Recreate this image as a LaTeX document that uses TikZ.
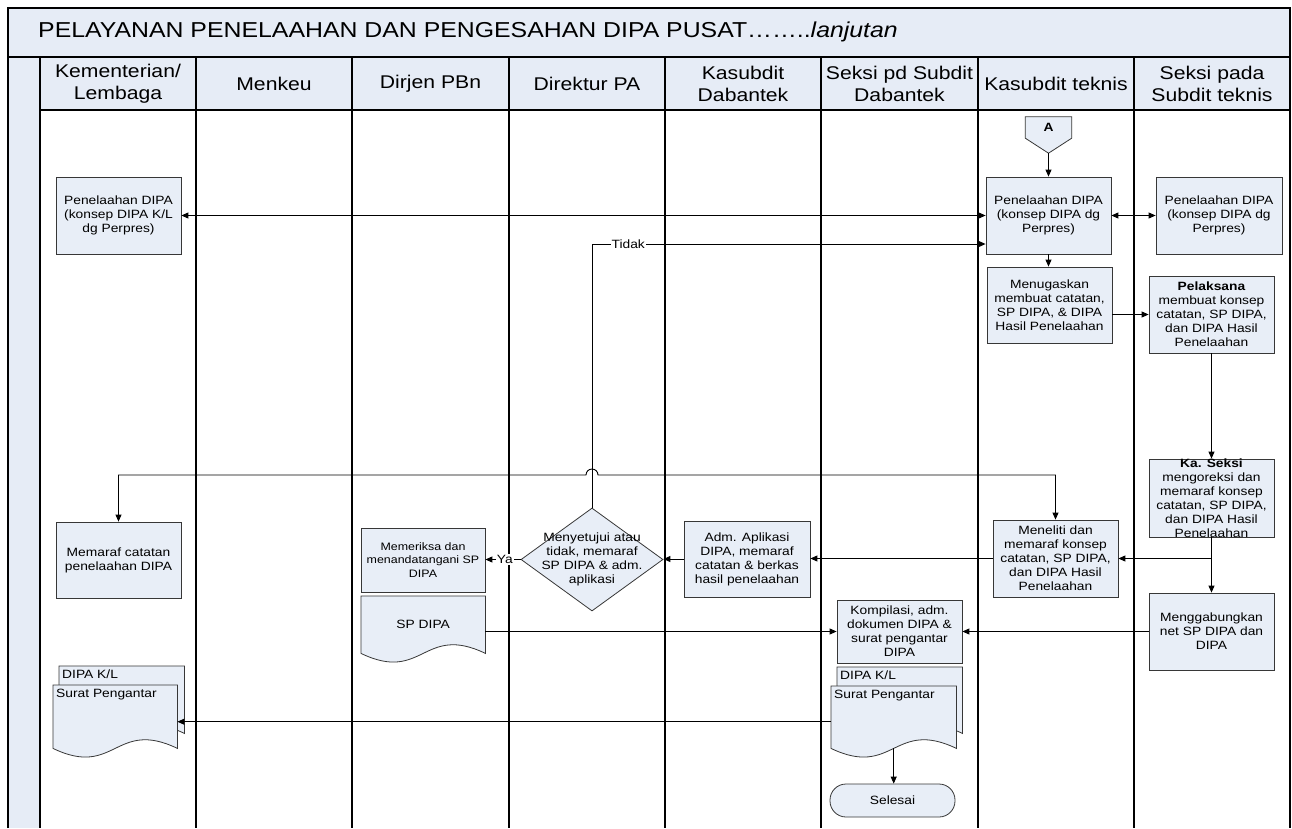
\documentclass[tikz,border=0pt]{standalone}
\usepackage{fontspec}
\setmainfont{Liberation Sans}[FakeStretch=1.15]
\usetikzlibrary{arrows.meta,shapes.geometric,calc,backgrounds}
\definecolor{boxfill}{RGB}{232,238,247}
\definecolor{barfill}{RGB}{230,236,246}
\definecolor{boxdraw}{RGB}{55,55,55}
\newcommand\boxfont{\fontsize{12}{14}\selectfont}
\newcommand\smallboxfont{\fontsize{10.8}{13.5}\selectfont}
\newcommand\hdrfont{\fontsize{18.4}{22}\selectfont}
\newcommand\titlefont{\fontsize{21.6}{24}\selectfont}
\newcommand\docwave[1]{%
  \draw[docline] (#1.north west) -- (#1.north east) -- (#1.south east)
    .. controls ($(#1.south)+(0,-30)$) and ($(#1.south)+(0,30)$) .. (#1.south west) -- cycle;}
\tikzset{
  lane/.style={line width=1.2pt, black},
  box/.style={draw=boxdraw, fill=boxfill, line width=0.8pt, align=center, font=\boxfont,
    inner sep=2pt, minimum width=125, minimum height=77},
  docbox/.style={inner sep=0pt, align=center, font=\boxfont},
  docline/.style={draw=boxdraw, fill=boxfill, line width=0.8pt},
  doclabel/.style={anchor=north west, inner sep=1pt, font=\boxfont},
  hdr/.style={align=center, font=\hdrfont},
  arr/.style={-{Triangle[length=7pt,width=6pt]}, line width=0.9pt, black},
  biarr/.style={{Triangle[length=7pt,width=6pt]}-{Triangle[length=7pt,width=6pt]}, line width=0.9pt, black},
  lbl/.style={fill=white, inner sep=1pt, font=\boxfont},
}
\begin{document}
\begin{tikzpicture}[x=1pt,y=-1pt]
\useasboundingbox (0,0) rectangle (1292,828);
% frame
\fill[barfill] (8,8) rectangle (1290,57);
\fill[barfill] (8,57) rectangle (40,828);
\fill[barfill] (40,57) rectangle (1290,110);
\draw[lane] (8,828) -- (8,8) -- (1290,8) -- (1290,828);
\draw[lane] (8,57) -- (1290,57);
\draw[lane] (40,110) -- (1290,110);
\foreach \x in {40,196,352,509,665,821,978,1134} \draw[lane] (\x,57) -- (\x,828);
\node[anchor=west, font=\titlefont, inner sep=0pt] (title) at (38,32)
  {PELAYANAN PENELAAHAN DAN PENGESAHAN DIPA PUSAT……..\textit{lanjutan}};
% headers
\node[hdr] (h1) at (118,83.5) {Kementerian/\\Lembaga};
\node[hdr] (h2) at (274,83.5) {Menkeu};
\node[hdr] (h3) at (430.5,83.5) {Dirjen PBn};
\node[hdr] (h4) at (587,83.5) {Direktur PA};
\node[hdr] (h5) at (743,83.5) {Kasubdit\\Dabantek};
\node[hdr] (h6) at (899.5,83.5) {Seksi pd Subdit\\Dabantek};
\node[hdr] (h7) at (1056,83.5) {Kasubdit teknis};
\node[hdr] (h8) at (1212,83.5) {Seksi pada\\Subdit teknis};
% off-page connector
\node[docbox, minimum width=46, minimum height=21, font=\boxfont\bfseries] (A) at (1048.5,127.5) {A};
\coordinate (Atip) at ($(A.south)+(0,15)$);
\begin{scope}[on background layer]
\draw[docline] (A.north west) -- (A.north east) -- (A.south east) -- (Atip) -- (A.south west) -- cycle;
\end{scope}
% boxes
\node[box] (L1) at (118.5,215.5) {Penelaahan DIPA\\(konsep DIPA K/L\\dg Perpres)};
\node[box] (K1) at (1048.5,215.5) {Penelaahan DIPA\\(konsep DIPA dg\\Perpres)};
\node[box, minimum width=126] (S1) at (1219,215.5) {Penelaahan DIPA\\(konsep DIPA dg\\Perpres)};
\node[box, minimum height=76] (K2) at (1049.5,305) {Menugaskan\\membuat catatan,\\SP DIPA, \& DIPA\\Hasil Penelaahan};
\node[box] (S2) at (1211.5,314.5) {\textbf{Pelaksana}\\membuat konsep\\catatan, SP DIPA,\\dan DIPA Hasil\\Penelaahan};
\node[box, minimum height=78, inner ysep=-3pt] (S3) at (1211.5,498) {\textbf{Ka. Seksi}\\mengoreksi dan\\memaraf konsep\\catatan, SP DIPA,\\dan DIPA Hasil\\Penelaahan};
\node[box] (K3) at (1055.5,558.5) {Meneliti dan\\memaraf konsep\\catatan, SP DIPA,\\dan DIPA Hasil\\Penelaahan};
\node[box] (S4) at (1211.5,631.5) {Menggabungkan\\net SP DIPA dan\\DIPA};
\node[box, minimum height=63] (Kom) at (899.5,631.5) {Kompilasi, adm.\\dokumen DIPA \&\\surat pengantar\\DIPA};
\node[box, minimum width=126, minimum height=76] (Adm) at (747,559) {Adm. Aplikasi\\DIPA, memaraf\\catatan \& berkas\\hasil penelaahan};
\node[draw=boxdraw, fill=boxfill, line width=0.8pt, diamond, minimum width=142, minimum height=103, inner sep=0pt] (dia) at (592,559.5) {};
\node[align=center, font=\boxfont, inner sep=0pt] (diat) at (dia.center) {Menyetujui atau\\tidak, memaraf\\SP DIPA \& adm.\\aplikasi};
\node[box, minimum width=124, minimum height=64, font=\smallboxfont] (D1) at (423,560) {Memeriksa dan\\menandatangani SP\\DIPA};
\node[box, minimum height=76] (L2) at (118.5,560) {Memaraf catatan\\penelaahan DIPA};
% documents
\node[docbox, anchor=north west, minimum width=124, minimum height=57] (D2) at (361,596) {SP DIPA};
\node[docbox, anchor=north west, minimum width=125, minimum height=67] (LB) at (59,666) {};
\node[docbox, anchor=north west, minimum width=124, minimum height=63] (LF) at (53,685) {};
\node[docbox, anchor=north west, minimum width=125, minimum height=66] (KB) at (837,667) {};
\node[docbox, anchor=north west, minimum width=125, minimum height=62] (KF) at (831,686) {};
\begin{scope}[on background layer]
\docwave{D2}
\docwave{LB}
\docwave{LF}
\docwave{KB}
\docwave{KF}
\end{scope}
\node[doclabel] (LBt) at ($(LB.north west)+(2,3)$) {DIPA K/L};
\node[doclabel] (LFt) at ($(LF.north west)+(2,3)$) {Surat Pengantar};
\node[doclabel] (KBt) at ($(KB.north west)+(2,3)$) {DIPA K/L};
\node[doclabel] (KFt) at ($(KF.north west)+(2,3)$) {Surat Pengantar};
\node[draw=boxdraw, fill=boxfill, line width=0.8pt, rounded corners=16pt, minimum width=125, minimum height=33, font=\boxfont] (sel) at (892.5,800.5) {Selesai};
% connectors
\draw[arr] (Atip) -- (K1.north);
\draw[biarr] (L1.east) -- (K1.west);
\draw[biarr] (K1.east) -- (S1.west);
\draw[arr] (dia.north) |- node[pos=0.546, lbl] {Tidak} ($(K1.west)+(0,28.5)$);
\draw[arr] (K1.south) -- (K1.south |- K2.north);
\draw[arr] (K2.east |- S2.west) -- (S2.west);
\draw[arr] (S2.south) -- (S3.north);
\draw[arr] (S3.south) -- (S4.north);
\draw[arr] (S3.south |- K3.east) -- (K3.east);
\draw[arr] (K3.west) -- (K3.west -| Adm.east);
\draw[arr] (Adm.west) -- (Adm.west -| dia.east);
\draw[arr] (dia.west) -- node[pos=0.45, lbl] {Ya} (dia.west -| D1.east);
\draw[arr] (D2.east |- Kom.west) -- (Kom.west);
\draw[arr] (S4.west) -- (Kom.east);
\draw[arr] ([yshift=-4.5pt]KF.west) -- ([yshift=-4.5pt]KF.west -| LF.east);
\draw[arr] (KF.south) -- (KF.south |- sel.north);
\coordinate (hopR) at ($(dia.north |- 0,475)+(6,0)$);
\draw[biarr] (K3.north) -- (K3.north |- 0,475) -- (hopR) arc[start angle=0, end angle=-180, radius=6] -- (L2.north |- 0,475) -- (L2.north);
\end{tikzpicture}
\end{document}
